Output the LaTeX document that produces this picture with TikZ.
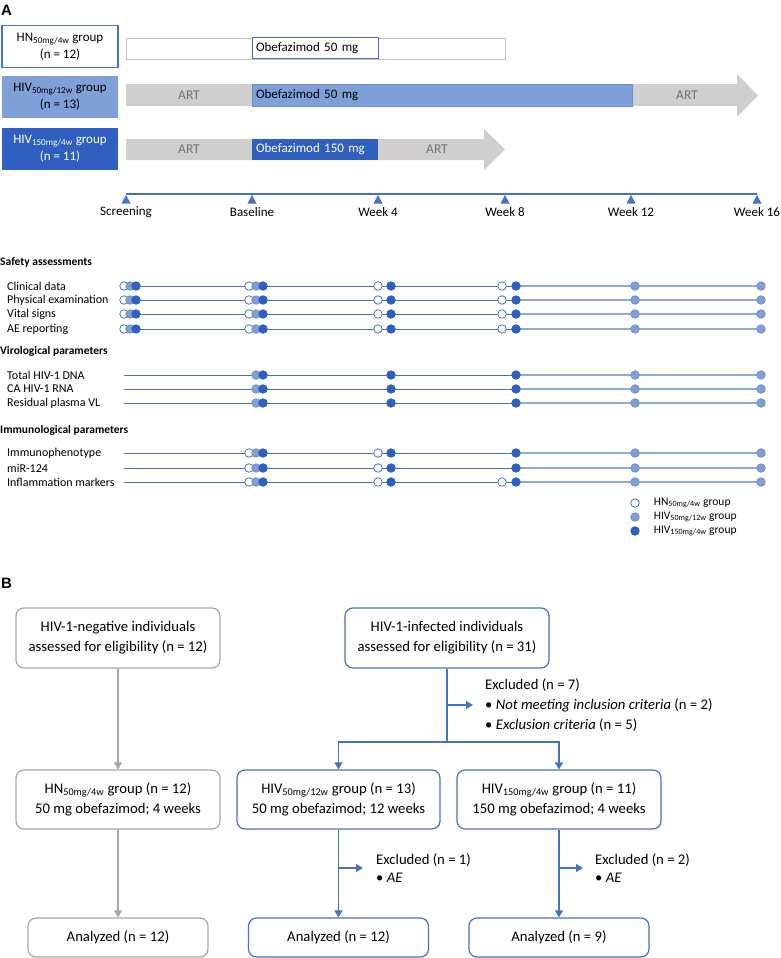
\documentclass[tikz,border=0pt]{standalone}
\usepackage{fontspec}
\setmainfont{Carlito}
\newfontfamily\panelfont{Liberation Sans}
\usetikzlibrary{arrows.meta, positioning}

\definecolor{accblue}{HTML}{4472C4}
\definecolor{lightblue}{HTML}{7F9FD9}
\definecolor{darkblue}{HTML}{2E5FC1}
\definecolor{artgray}{HTML}{D0CECE}
\definecolor{boxgray}{HTML}{A6A6A6}
\definecolor{linelight}{HTML}{8EA9DB}

\newcommand{\grp}[2]{#1\textsubscript{#2}}

\begin{document}
\begin{tikzpicture}[x=1pt, y=-1pt,
    panel/.style={font=\panelfont\bfseries\fontsize{15}{16}\selectfont, anchor=west, inner sep=0pt},
    groupbox/.style={rectangle, minimum width=116pt, minimum height=42pt, align=center, inner sep=0pt, font=\fontsize{13}{17}\selectfont},
    dosebox/.style={rectangle, minimum height=21pt, inner ysep=0pt, inner xsep=4pt, text width=118pt, align=left, font=\fontsize{13}{15}\selectfont},
    artlabel/.style={font=\fontsize{13.5}{15}\selectfont, text=gray!90!black},
    weeklabel/.style={font=\fontsize{13}{15}\selectfont},
    header/.style={anchor=west, inner sep=0pt, font=\bfseries\fontsize{11.5}{13}\selectfont},
    rowlabel/.style={anchor=west, inner sep=0pt, font=\fontsize{12}{13}\selectfont},
    rowline/.style={accblue, line width=0.9pt},
    opendot/.style={circle, inner sep=0pt, minimum size=8.5pt, draw=accblue, fill=white, line width=0.8pt},
    lightdot/.style={opendot, draw=lightblue!90!black, fill=lightblue},
    darkdot/.style={opendot, draw=darkblue, fill=darkblue},
    legtext/.style={anchor=west, inner sep=0pt, font=\fontsize{11.5}{13}\selectfont},
    flowgray/.style={rectangle, rounded corners=8pt, draw=boxgray, line width=1.2pt, align=center, inner sep=0pt, font=\fontsize{14.7}{20}\selectfont},
    flowblue/.style={flowgray, draw=accblue},
    exctext/.style={anchor=west, inner sep=0pt, align=left, font=\fontsize{14.7}{20}\selectfont},
    arrowgray/.style={-{Triangle[width=8pt, length=7pt]}, boxgray, line width=1.2pt},
    arrowblue/.style={-{Triangle[width=8pt, length=7pt]}, accblue, line width=1.2pt},
    lineblue/.style={accblue, line width=1.2pt}
]
\useasboundingbox (0,0) rectangle (780,958);

% Panel A
\node[panel] (pa) at (1,10) {A};

% Group boxes
\node[groupbox, draw=accblue, line width=1.5pt, fill=white] (ghn) at (60,46.5) {\grp{HN}{50mg/4w} group\\(n = 12)};
\node[groupbox, fill=lightblue] (g50) at (60,97) {\grp{HIV}{50mg/12w} group\\(n = 13)};
\node[groupbox, fill=darkblue, text=white] (g150) at (60,149) {\grp{HIV}{150mg/4w} group\\(n = 11)};

% Treatment bars
\draw[boxgray!70, line width=0.8pt, fill=white] (126,38) rectangle (505,59);
\node[dosebox, draw=accblue, line width=1pt, fill=white] (dhn) at (315,48.5) {Obefazimod 50 mg};

\fill[artgray] (126,84) -- (737,84) -- (737,74) -- (758,95.5) -- (737,117) -- (737,106) -- (126,106) -- cycle;
\node[dosebox, fill=lightblue, draw=accblue!80, line width=0.5pt, minimum height=22pt, text width=372pt] (d50) at (442,95) {Obefazimod 50 mg};
\node[artlabel] (art1) at (189,95) {ART};
\node[artlabel] (art2) at (687,95) {ART};

\fill[artgray] (126,139) -- (484,139) -- (484,129) -- (505,149.5) -- (484,170) -- (484,160) -- (126,160) -- cycle;
\node[dosebox, fill=darkblue, text=white, minimum height=21pt] (d150) at (315,149.5) {Obefazimod 150 mg};
\node[artlabel] (art3) at (189,149.5) {ART};
\node[artlabel] (art4) at (437,149.5) {ART};

% Timeline
\foreach \x/\t [count=\i] in {126/Screening, 252/Baseline, 378/Week 4, 505/Week 8, 631/Week 12, 757/Week 16} {
    \coordinate (wk\i) at (\x,194);
    \fill[accblue] (\x,195) -- ++(-4.5,8.5) -- ++(9,0) -- cycle;
    \node[weeklabel] (wl\i) at (\x,212) {\t};
}
\draw[accblue, line width=2pt] (wk1) -- (wk6);

% Safety assessments
\node[header] (hsafe) at (0,262) {Safety assessments};
\foreach \y/\t [count=\i] in {286/Clinical data, 300/Physical examination, 314/Vital signs, 329/AE reporting} {
    \node[rowlabel] (s\i) at (7,\y) {\t};
    \coordinate (s\i-a) at (124,\y);
    \coordinate (s\i-b) at (516,\y);
    \coordinate (s\i-c) at (761,\y);
    \draw[rowline] (s\i-a) -- (s\i-b);
    \draw[rowline, linelight, line width=1.3pt] (s\i-b) -- (s\i-c);
    \foreach \x in {124,249,378,502} \node[opendot] (s\i-o\x) at (\x,\y) {};
    \foreach \x in {130,256,635,761} \node[lightdot] (s\i-l\x) at (\x,\y) {};
    \foreach \x in {136,263,391,516} \node[darkdot] (s\i-d\x) at (\x,\y) {};
}

% Virological parameters
\node[header] (hviro) at (0,351) {Virological parameters};
\foreach \y/\t [count=\i] in {375/Total HIV-1 DNA, 389/CA HIV-1 RNA, 403/Residual plasma VL} {
    \node[rowlabel] (v\i) at (7,\y) {\t};
    \coordinate (v\i-a) at (124,\y);
    \coordinate (v\i-b) at (516,\y);
    \coordinate (v\i-c) at (761,\y);
    \draw[rowline] (v\i-a) -- (v\i-b);
    \draw[rowline, linelight, line width=1.3pt] (v\i-b) -- (v\i-c);
    \foreach \x in {256,635,761} \node[lightdot] (v\i-l\x) at (\x,\y) {};
    \foreach \x in {263,391,516} \node[darkdot] (v\i-d\x) at (\x,\y) {};
}

% Immunological parameters
\node[header] (himmu) at (0,430) {Immunological parameters};
\foreach \y/\t/\opens [count=\i] in {453/Immunophenotype/{249,378}, 468/miR-124/{249,378}, 482/Inflammation markers/{249,378,502}} {
    \node[rowlabel] (m\i) at (7,\y) {\t};
    \coordinate (m\i-a) at (124,\y);
    \coordinate (m\i-b) at (516,\y);
    \coordinate (m\i-c) at (761,\y);
    \draw[rowline] (m\i-a) -- (m\i-b);
    \draw[rowline, linelight, line width=1.3pt] (m\i-b) -- (m\i-c);
    \foreach \x in \opens \node[opendot] (m\i-o\x) at (\x,\y) {};
    \foreach \x in {256,635,761} \node[lightdot] (m\i-l\x) at (\x,\y) {};
    \foreach \x in {263,391,516} \node[darkdot] (m\i-d\x) at (\x,\y) {};
}

% Legend
\node[opendot] (leg1) at (635,503) {};
\node[lightdot] (leg2) at (635,517) {};
\node[darkdot] (leg3) at (635,531) {};
\node[legtext, right=14pt of leg1] (leg1t) {\grp{HN}{50mg/4w} group};
\node[legtext, right=14pt of leg2] (leg2t) {\grp{HIV}{50mg/12w} group};
\node[legtext, right=14pt of leg3] (leg3t) {\grp{HIV}{150mg/4w} group};

% Panel B
\node[panel] (pb) at (1,583) {B};

% Screening boxes
\node[flowgray, minimum width=204pt, minimum height=60pt] (neg) at (118,638) {HIV-1-negative individuals\\assessed for eligibility (n = 12)};
\node[flowblue, minimum width=204pt, minimum height=60pt] (inf) at (447,638) {HIV-1-infected individuals\\assessed for eligibility (n = 31)};

% Group boxes
\node[flowgray, minimum width=204pt, minimum height=59pt] (hn) at (118,799.5) {\grp{HN}{50mg/4w} group (n = 12)\\50 mg obefazimod; 4 weeks};
\node[flowblue, minimum width=203pt, minimum height=59pt] (hiv50) at (338.5,799.5) {\grp{HIV}{50mg/12w} group (n = 13)\\50 mg obefazimod; 12 weeks};
\node[flowblue, minimum width=204pt, minimum height=59pt] (hiv150) at (559,799.5) {\grp{HIV}{150mg/4w} group (n = 11)\\150 mg obefazimod; 4 weeks};

% Analyzed boxes
\node[flowgray, minimum width=180pt, minimum height=39pt] (an1) at (118,937.5) {Analyzed (n = 12)};
\node[flowblue, minimum width=180pt, minimum height=39pt] (an2) at (338.5,937.5) {Analyzed (n = 12)};
\node[flowblue, minimum width=180pt, minimum height=39pt] (an3) at (559,937.5) {Analyzed (n = 9)};

% Exclusion notes
\node[exctext] (ex1) at (485,705) {Excluded (n = 7)\\\textbullet\ \textit{Not meeting inclusion criteria} (n = 2)\\\textbullet\ \textit{Exclusion criteria} (n = 5)};
\node[exctext, font=\fontsize{14.7}{18}\selectfont] (ex2) at (376,868) {Excluded (n = 1)\\\textbullet\ \textit{AE}};
\node[exctext, font=\fontsize{14.7}{18}\selectfont] (ex3) at (595,868) {Excluded (n = 2)\\\textbullet\ \textit{AE}};

% Arrows
\draw[arrowgray] (neg) -- (hn);
\draw[arrowgray] (hn) -- (an1);

\coordinate (split) at (447,742);
\draw[lineblue] (inf) -- (split);
\draw[arrowblue] (split) -| (hiv50);
\draw[arrowblue] (split) -| (hiv150);
\draw[arrowblue] (inf.south |- ex1.west) -- ([xshift=-12pt]ex1.west);

\draw[arrowblue] (hiv50) -- (an2);
\draw[arrowblue] (hiv50.south |- ex2.west) -- ([xshift=-13pt]ex2.west);
\draw[arrowblue] (hiv150) -- (an3);
\draw[arrowblue] (hiv150.south |- ex3.west) -- ([xshift=-12pt]ex3.west);

\end{tikzpicture}
\end{document}
